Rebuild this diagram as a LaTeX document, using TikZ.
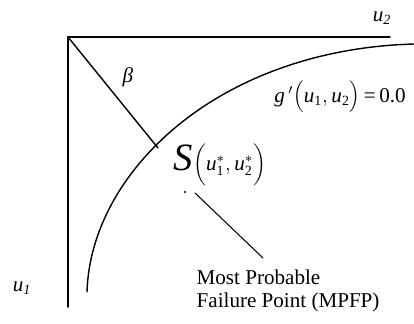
\documentclass[tikz,border=0pt]{standalone}
\usepackage{fontspec}
\setmainfont{Liberation Serif}
\begin{document}
\begin{tikzpicture}[line join=round,line cap=round,font=\fontsize{12}{13}\selectfont,line width=0.8pt]
	\useasboundingbox (-1.36,0.74) rectangle (6.92,-5.72);
	% axes
	\coordinate (O) at (0,0);
	\coordinate (u2end) at (6.44,0);
	\coordinate (u1end) at (0,-5.4);
	\draw (u2end) -- (O) -- (u1end);
	\node (u2) at (6.28,0.38) {\textit{u}\textsubscript{\textit{2}}};
	\node (u1) at (-0.92,-5.02) {\textit{u}\textsubscript{\textit{1}}};
	% limit state curve
	\coordinate (cstart) at (0.38,-5.10);
	\coordinate (cend) at (6.92,-0.14);
	\draw (cstart) .. controls (0.45,-2.7) and (3.0,-0.25) .. (cend);
	\node (g) at (5.44,-1.2) {$\textit{g}\,'\Big(\textit{u}_{\mathrm{1}},\textit{u}_{\mathrm{2}}\Big)$\,=\,0.0};
	% reliability index
	\coordinate (bend) at (1.8,-2.22);
	\draw (O) -- (bend);
	\node (beta) at (1.2,-0.8) {\textit{β}};
	% design point
	\node (S) at (3.04,-2.56) {{\fontsize{22}{22}\selectfont\textit{S}}$\bigg(\textit{u}_{\mathrm{1}}^*,\textit{u}_{\mathrm{2}}^*\bigg)$};
	\coordinate (dot) at (2.34,-3.1);
	\fill (dot) circle (0.6pt);
	\coordinate (lstart) at (2.54,-3.12);
	\coordinate (lend) at (3.9,-4.42);
	\node[anchor=north west,inner sep=0,align=left] (mpfp) at (2.56,-4.64) {Most Probable\\Failure Point (MPFP)};
	\draw[line width=0.6pt] (lstart) -- (lend);
\end{tikzpicture}
\end{document}
